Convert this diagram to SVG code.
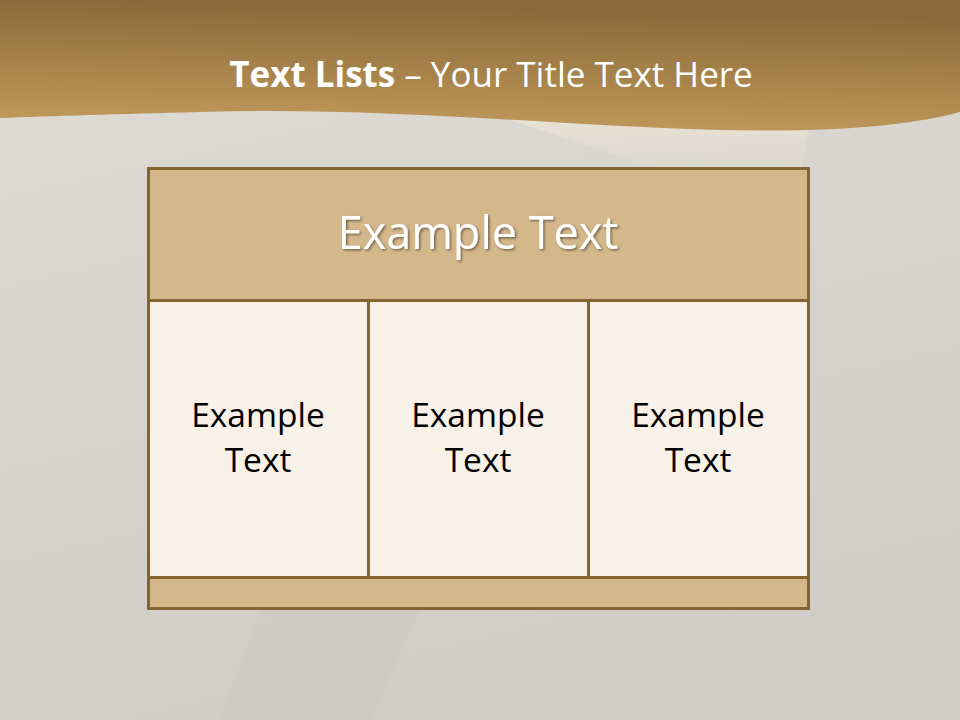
<svg xmlns="http://www.w3.org/2000/svg" width="960" height="720" viewBox="0 0 960 720">
<defs>
<linearGradient id="bg" x1="0" y1="0" x2="0.3" y2="1">
<stop offset="0" stop-color="#dedcd4"/>
<stop offset="1" stop-color="#cfcdc6"/>
</linearGradient>
<linearGradient id="band" x1="0" y1="1" x2="0.15" y2="0">
<stop offset="0" stop-color="#c49c5e"/>
<stop offset="1" stop-color="#896a38"/>
</linearGradient>
<linearGradient id="fig" x1="0" y1="0" x2="0" y2="1">
<stop offset="0" stop-color="#efe6d8" stop-opacity="0.7"/>
<stop offset="1" stop-color="#e0dcd2" stop-opacity="0"/>
</linearGradient>
<filter id="sh" x="-10%" y="-20%" width="130%" height="150%">
<feDropShadow dx="1.5" dy="1.5" stdDeviation="1" flood-color="#000" flood-opacity="0.45"/>
</filter>
<style>
.box{stroke:#86642f;stroke-width:3}
.hdr{fill:#d4b78a}
.cell{fill:#f7f1e8}
.t{font-family:"Open Sans","Noto Sans",sans-serif;text-anchor:middle}
.ct{font-size:33.5px;fill:#000}
</style>
</defs>
<rect width="960" height="720" fill="url(#bg)"/>
<path d="M510 120 L810 120 L795 200 L720 200 L660 170 Z" fill="url(#fig)"/>
<path d="M260 610 L420 610 L370 720 L220 720 Z" fill="#c8c4bd" opacity="0.25"/>
<path d="M0 0 H960 V112 C900 128 820 132 720 130 C560 126 380 106 200 112 C120 114 50 116 0 118 Z" fill="url(#band)"/>
<text class="t" x="491" y="87" font-size="35" fill="#fff"><tspan font-weight="bold">Text Lists</tspan>  – Your Title Text Here</text>
<g id="header">
<rect class="box hdr" x="148.5" y="168.5" width="660" height="132"/>
<text class="t" x="478" y="249" font-size="45" fill="#fff" filter="url(#sh)">Example Text</text>
</g>
<g id="col1">
<rect class="box cell" x="148.5" y="300.5" width="220" height="277"/>
<text class="t ct" x="258" y="427">Example</text>
<text class="t ct" x="258" y="472">Text</text>
</g>
<g id="col2">
<rect class="box cell" x="368.5" y="300.5" width="220" height="277"/>
<text class="t ct" x="478" y="427">Example</text>
<text class="t ct" x="478" y="472">Text</text>
</g>
<g id="col3">
<rect class="box cell" x="588.5" y="300.5" width="220" height="277"/>
<text class="t ct" x="698" y="427">Example</text>
<text class="t ct" x="698" y="472">Text</text>
</g>
<g id="footer">
<rect class="box hdr" x="148.5" y="577.5" width="660" height="31"/>
</g>
<g id="connectors"/>
</svg>
